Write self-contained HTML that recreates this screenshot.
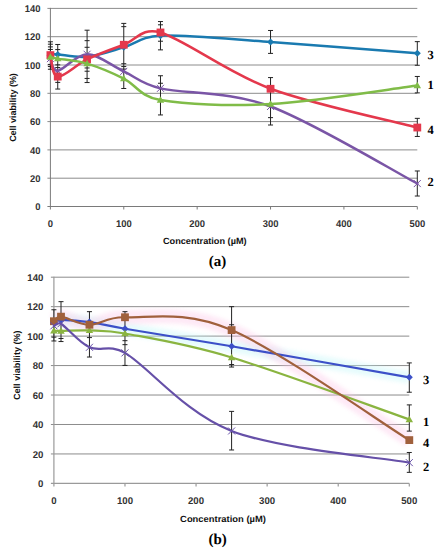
<!DOCTYPE html>
<html><head><meta charset="utf-8"><style>
html,body{margin:0;padding:0;background:#fff;}
svg{display:block;}
text{text-rendering:geometricPrecision;}
.tl{font-family:"Liberation Sans",sans-serif;font-size:9.8px;font-weight:bold;fill:#333;}
.at{font-family:"Liberation Sans",sans-serif;font-size:9px;font-weight:bold;fill:#111;}
.sl{font-family:"Liberation Serif",serif;font-size:12.5px;font-weight:bold;fill:#000;}
.pl{font-family:"Liberation Serif",serif;font-size:15px;font-weight:bold;fill:#000;}
</style></head><body>
<svg width="436" height="550" viewBox="0 0 436 550">
<defs><filter id="blur" x="-20%" y="-50%" width="140%" height="200%"><feGaussianBlur stdDeviation="2"/></filter></defs>
<rect width="436" height="550" fill="#fff"/>
<line x1="47.40" y1="178.20" x2="417.30" y2="178.20" stroke="#8c8c8c" stroke-width="1"/>
<line x1="47.40" y1="149.90" x2="417.30" y2="149.90" stroke="#8c8c8c" stroke-width="1"/>
<line x1="47.40" y1="121.60" x2="417.30" y2="121.60" stroke="#8c8c8c" stroke-width="1"/>
<line x1="47.40" y1="93.30" x2="417.30" y2="93.30" stroke="#8c8c8c" stroke-width="1"/>
<line x1="47.40" y1="65.00" x2="417.30" y2="65.00" stroke="#8c8c8c" stroke-width="1"/>
<line x1="47.40" y1="36.70" x2="417.30" y2="36.70" stroke="#8c8c8c" stroke-width="1"/>
<line x1="47.40" y1="8.40" x2="417.30" y2="8.40" stroke="#8c8c8c" stroke-width="1"/>
<line x1="50.40" y1="7.90" x2="50.40" y2="209.50" stroke="#7a7a7a" stroke-width="1"/>
<line x1="47.40" y1="206.50" x2="417.30" y2="206.50" stroke="#7a7a7a" stroke-width="1"/>
<line x1="123.78" y1="206.50" x2="123.78" y2="209.50" stroke="#7a7a7a" stroke-width="1"/>
<line x1="197.16" y1="206.50" x2="197.16" y2="209.50" stroke="#7a7a7a" stroke-width="1"/>
<line x1="270.54" y1="206.50" x2="270.54" y2="209.50" stroke="#7a7a7a" stroke-width="1"/>
<line x1="343.92" y1="206.50" x2="343.92" y2="209.50" stroke="#7a7a7a" stroke-width="1"/>
<line x1="417.30" y1="206.50" x2="417.30" y2="209.50" stroke="#7a7a7a" stroke-width="1"/>
<text x="35.35" y="210.10" class="tl" textLength="5.25" lengthAdjust="spacingAndGlyphs">0</text>
<text x="30.10" y="181.80" class="tl" textLength="10.50" lengthAdjust="spacingAndGlyphs">20</text>
<text x="30.10" y="153.50" class="tl" textLength="10.50" lengthAdjust="spacingAndGlyphs">40</text>
<text x="30.10" y="125.20" class="tl" textLength="10.50" lengthAdjust="spacingAndGlyphs">60</text>
<text x="30.10" y="96.90" class="tl" textLength="10.50" lengthAdjust="spacingAndGlyphs">80</text>
<text x="24.85" y="68.60" class="tl" textLength="15.75" lengthAdjust="spacingAndGlyphs">100</text>
<text x="24.85" y="40.30" class="tl" textLength="15.75" lengthAdjust="spacingAndGlyphs">120</text>
<text x="24.85" y="12.00" class="tl" textLength="15.75" lengthAdjust="spacingAndGlyphs">140</text>
<text x="47.77" y="227.10" class="tl" textLength="5.25" lengthAdjust="spacingAndGlyphs">0</text>
<text x="115.91" y="227.10" class="tl" textLength="15.75" lengthAdjust="spacingAndGlyphs">100</text>
<text x="189.28" y="227.10" class="tl" textLength="15.75" lengthAdjust="spacingAndGlyphs">200</text>
<text x="262.67" y="227.10" class="tl" textLength="15.75" lengthAdjust="spacingAndGlyphs">300</text>
<text x="336.04" y="227.10" class="tl" textLength="15.75" lengthAdjust="spacingAndGlyphs">400</text>
<text x="409.43" y="227.10" class="tl" textLength="15.75" lengthAdjust="spacingAndGlyphs">500</text>
<line x1="50.40" y1="41.79" x2="50.40" y2="69.25" stroke="#222" stroke-width="1"/>
<line x1="47.90" y1="41.79" x2="52.90" y2="41.79" stroke="#222" stroke-width="1"/>
<line x1="47.90" y1="44.20" x2="52.90" y2="44.20" stroke="#222" stroke-width="1"/>
<line x1="47.90" y1="46.89" x2="52.90" y2="46.89" stroke="#222" stroke-width="1"/>
<line x1="47.90" y1="49.44" x2="52.90" y2="49.44" stroke="#222" stroke-width="1"/>
<line x1="47.90" y1="64.43" x2="52.90" y2="64.43" stroke="#222" stroke-width="1"/>
<line x1="47.90" y1="66.56" x2="52.90" y2="66.56" stroke="#222" stroke-width="1"/>
<line x1="47.90" y1="69.25" x2="52.90" y2="69.25" stroke="#222" stroke-width="1"/>
<line x1="57.74" y1="44.48" x2="57.74" y2="89.06" stroke="#222" stroke-width="1"/>
<line x1="55.24" y1="44.48" x2="60.24" y2="44.48" stroke="#222" stroke-width="1"/>
<line x1="55.24" y1="49.58" x2="60.24" y2="49.58" stroke="#222" stroke-width="1"/>
<line x1="55.24" y1="64.86" x2="60.24" y2="64.86" stroke="#222" stroke-width="1"/>
<line x1="55.24" y1="67.55" x2="60.24" y2="67.55" stroke="#222" stroke-width="1"/>
<line x1="55.24" y1="82.40" x2="60.24" y2="82.40" stroke="#222" stroke-width="1"/>
<line x1="55.24" y1="89.06" x2="60.24" y2="89.06" stroke="#222" stroke-width="1"/>
<line x1="87.09" y1="30.19" x2="87.09" y2="82.55" stroke="#222" stroke-width="1"/>
<line x1="84.59" y1="30.19" x2="89.59" y2="30.19" stroke="#222" stroke-width="1"/>
<line x1="84.59" y1="40.66" x2="89.59" y2="40.66" stroke="#222" stroke-width="1"/>
<line x1="84.59" y1="47.31" x2="89.59" y2="47.31" stroke="#222" stroke-width="1"/>
<line x1="84.59" y1="67.97" x2="89.59" y2="67.97" stroke="#222" stroke-width="1"/>
<line x1="84.59" y1="71.23" x2="89.59" y2="71.23" stroke="#222" stroke-width="1"/>
<line x1="84.59" y1="78.44" x2="89.59" y2="78.44" stroke="#222" stroke-width="1"/>
<line x1="84.59" y1="82.55" x2="89.59" y2="82.55" stroke="#222" stroke-width="1"/>
<line x1="123.78" y1="23.40" x2="123.78" y2="88.49" stroke="#222" stroke-width="1"/>
<line x1="121.28" y1="23.40" x2="126.28" y2="23.40" stroke="#222" stroke-width="1"/>
<line x1="121.28" y1="26.65" x2="126.28" y2="26.65" stroke="#222" stroke-width="1"/>
<line x1="121.28" y1="63.73" x2="126.28" y2="63.73" stroke="#222" stroke-width="1"/>
<line x1="121.28" y1="66.56" x2="126.28" y2="66.56" stroke="#222" stroke-width="1"/>
<line x1="121.28" y1="69.10" x2="126.28" y2="69.10" stroke="#222" stroke-width="1"/>
<line x1="121.28" y1="88.49" x2="126.28" y2="88.49" stroke="#222" stroke-width="1"/>
<line x1="160.47" y1="21.56" x2="160.47" y2="49.86" stroke="#222" stroke-width="1"/>
<line x1="157.97" y1="21.56" x2="162.97" y2="21.56" stroke="#222" stroke-width="1"/>
<line x1="157.97" y1="24.81" x2="162.97" y2="24.81" stroke="#222" stroke-width="1"/>
<line x1="157.97" y1="41.23" x2="162.97" y2="41.23" stroke="#222" stroke-width="1"/>
<line x1="157.97" y1="49.86" x2="162.97" y2="49.86" stroke="#222" stroke-width="1"/>
<line x1="160.47" y1="75.75" x2="160.47" y2="114.95" stroke="#222" stroke-width="1"/>
<line x1="157.97" y1="75.75" x2="162.97" y2="75.75" stroke="#222" stroke-width="1"/>
<line x1="157.97" y1="83.25" x2="162.97" y2="83.25" stroke="#222" stroke-width="1"/>
<line x1="157.97" y1="114.95" x2="162.97" y2="114.95" stroke="#222" stroke-width="1"/>
<line x1="270.54" y1="30.47" x2="270.54" y2="53.40" stroke="#222" stroke-width="1"/>
<line x1="268.04" y1="30.47" x2="273.04" y2="30.47" stroke="#222" stroke-width="1"/>
<line x1="268.04" y1="53.40" x2="273.04" y2="53.40" stroke="#222" stroke-width="1"/>
<line x1="270.54" y1="77.59" x2="270.54" y2="125.00" stroke="#222" stroke-width="1"/>
<line x1="268.04" y1="77.59" x2="273.04" y2="77.59" stroke="#222" stroke-width="1"/>
<line x1="268.04" y1="117.64" x2="273.04" y2="117.64" stroke="#222" stroke-width="1"/>
<line x1="268.04" y1="125.00" x2="273.04" y2="125.00" stroke="#222" stroke-width="1"/>
<line x1="417.30" y1="41.65" x2="417.30" y2="65.28" stroke="#222" stroke-width="1"/>
<line x1="414.80" y1="41.65" x2="419.80" y2="41.65" stroke="#222" stroke-width="1"/>
<line x1="414.80" y1="65.28" x2="419.80" y2="65.28" stroke="#222" stroke-width="1"/>
<line x1="417.30" y1="76.46" x2="417.30" y2="92.88" stroke="#222" stroke-width="1"/>
<line x1="414.80" y1="76.46" x2="419.80" y2="76.46" stroke="#222" stroke-width="1"/>
<line x1="414.80" y1="92.88" x2="419.80" y2="92.88" stroke="#222" stroke-width="1"/>
<line x1="417.30" y1="118.35" x2="417.30" y2="136.46" stroke="#222" stroke-width="1"/>
<line x1="414.80" y1="118.35" x2="419.80" y2="118.35" stroke="#222" stroke-width="1"/>
<line x1="414.80" y1="136.46" x2="419.80" y2="136.46" stroke="#222" stroke-width="1"/>
<line x1="417.30" y1="170.98" x2="417.30" y2="196.03" stroke="#222" stroke-width="1"/>
<line x1="414.80" y1="170.98" x2="419.80" y2="170.98" stroke="#222" stroke-width="1"/>
<line x1="414.80" y1="196.03" x2="419.80" y2="196.03" stroke="#222" stroke-width="1"/>
<path d="M50.40,54.39 C51.62,54.39 54.08,54.15 57.74,54.39 C63.85,54.79 76.08,57.97 87.09,56.79 C98.10,55.61 111.55,50.83 123.78,47.31 C136.01,43.80 141.24,36.41 160.47,35.71 C184.93,34.81 227.74,39.01 270.54,41.94 C313.35,44.86 392.84,51.37 417.30,53.26" stroke="#1a7ab0" stroke-width="2.5" fill="none" stroke-linejoin="round" stroke-linecap="round"/>
<path d="M50.40,50.89 L53.90,54.39 L50.40,57.89 L46.90,54.39Z" fill="#1a7ab0"/>
<path d="M57.74,50.89 L61.24,54.39 L57.74,57.89 L54.24,54.39Z" fill="#1a7ab0"/>
<path d="M87.09,53.29 L90.59,56.79 L87.09,60.29 L83.59,56.79Z" fill="#1a7ab0"/>
<path d="M123.78,43.81 L127.28,47.31 L123.78,50.81 L120.28,47.31Z" fill="#1a7ab0"/>
<path d="M160.47,32.21 L163.97,35.71 L160.47,39.21 L156.97,35.71Z" fill="#1a7ab0"/>
<path d="M270.54,38.44 L274.04,41.94 L270.54,45.44 L267.04,41.94Z" fill="#1a7ab0"/>
<path d="M417.30,49.76 L420.80,53.26 L417.30,56.76 L413.80,53.26Z" fill="#1a7ab0"/>
<path d="M50.40,58.63 C51.62,60.68 51.62,71.67 57.74,70.94 C63.85,70.21 76.08,54.18 87.09,54.25 C98.10,54.32 111.55,65.68 123.78,71.37 C136.01,77.05 140.81,83.65 160.47,88.35 C184.93,94.20 227.74,90.59 270.54,106.46 C313.35,122.33 392.84,170.72 417.30,183.58" stroke="#7a55a6" stroke-width="2.5" fill="none" stroke-linejoin="round" stroke-linecap="round"/>
<path d="M46.90,55.13 L53.90,62.13 M53.90,55.13 L46.90,62.13" stroke="#7a55a6" stroke-width="1" fill="none"/>
<path d="M54.24,67.44 L61.24,74.44 M61.24,67.44 L54.24,74.44" stroke="#7a55a6" stroke-width="1" fill="none"/>
<path d="M83.59,50.75 L90.59,57.75 M90.59,50.75 L83.59,57.75" stroke="#7a55a6" stroke-width="1" fill="none"/>
<path d="M120.28,67.87 L127.28,74.87 M127.28,67.87 L120.28,74.87" stroke="#7a55a6" stroke-width="1" fill="none"/>
<path d="M156.97,84.85 L163.97,91.85 M163.97,84.85 L156.97,91.85" stroke="#7a55a6" stroke-width="1" fill="none"/>
<path d="M267.04,102.96 L274.04,109.96 M274.04,102.96 L267.04,109.96" stroke="#7a55a6" stroke-width="1" fill="none"/>
<path d="M413.80,180.08 L420.80,187.08 M420.80,180.08 L413.80,187.08" stroke="#7a55a6" stroke-width="1" fill="none"/>
<path d="M50.40,55.09 C51.62,58.68 51.62,75.90 57.74,76.60 C63.85,77.31 76.08,64.65 87.09,59.34 C98.10,54.03 111.55,49.25 123.78,44.77 C136.01,40.28 141.94,26.90 160.47,32.46 C184.93,39.79 227.74,72.92 270.54,88.77 C313.35,104.62 392.84,121.08 417.30,127.54" stroke="#e4384c" stroke-width="2.5" fill="none" stroke-linejoin="round" stroke-linecap="round"/>
<rect x="46.50" y="51.20" width="7.80" height="7.80" fill="#e4384c"/>
<rect x="53.84" y="72.70" width="7.80" height="7.80" fill="#e4384c"/>
<rect x="83.19" y="55.44" width="7.80" height="7.80" fill="#e4384c"/>
<rect x="119.88" y="40.87" width="7.80" height="7.80" fill="#e4384c"/>
<rect x="156.57" y="28.56" width="7.80" height="7.80" fill="#e4384c"/>
<rect x="266.64" y="84.87" width="7.80" height="7.80" fill="#e4384c"/>
<rect x="413.40" y="123.64" width="7.80" height="7.80" fill="#e4384c"/>
<path d="M50.40,57.08 C51.62,57.34 54.05,57.98 57.74,58.63 C63.85,59.72 76.08,60.26 87.09,63.59 C98.10,66.91 111.55,72.50 123.78,78.58 C136.01,84.67 139.52,96.46 160.47,100.09 C184.93,104.34 227.74,106.48 270.54,104.05 C313.35,101.62 392.84,88.61 417.30,85.52" stroke="#80bc48" stroke-width="2.5" fill="none" stroke-linejoin="round" stroke-linecap="round"/>
<path d="M50.40,53.34 L54.14,59.80 L46.66,59.80Z" fill="#80bc48"/>
<path d="M57.74,54.89 L61.48,61.35 L54.00,61.35Z" fill="#80bc48"/>
<path d="M87.09,59.85 L90.83,66.31 L83.35,66.31Z" fill="#80bc48"/>
<path d="M123.78,74.84 L127.52,81.30 L120.04,81.30Z" fill="#80bc48"/>
<path d="M160.47,96.35 L164.21,102.81 L156.73,102.81Z" fill="#80bc48"/>
<path d="M270.54,100.31 L274.28,106.77 L266.80,106.77Z" fill="#80bc48"/>
<path d="M417.30,81.78 L421.04,88.24 L413.56,88.24Z" fill="#80bc48"/>
<text x="427.50" y="59.40" class="sl">3</text>
<text x="427.50" y="89.40" class="sl">1</text>
<text x="427.50" y="133.90" class="sl">4</text>
<text x="427.50" y="186.40" class="sl">2</text>
<text transform="translate(16.10,107.50) rotate(-90)" text-anchor="middle" class="at" textLength="68.7" lengthAdjust="spacingAndGlyphs">Cell viability (%)</text>
<text x="204.80" y="243.80" text-anchor="middle" class="at" textLength="83.7" lengthAdjust="spacingAndGlyphs">Concentration (µM)</text>
<text x="217.60" y="265.60" text-anchor="middle" class="pl">(a)</text>
<line x1="50.90" y1="453.94" x2="409.30" y2="453.94" stroke="#8c8c8c" stroke-width="1"/>
<line x1="50.90" y1="424.49" x2="409.30" y2="424.49" stroke="#8c8c8c" stroke-width="1"/>
<line x1="50.90" y1="395.03" x2="409.30" y2="395.03" stroke="#8c8c8c" stroke-width="1"/>
<line x1="50.90" y1="365.57" x2="409.30" y2="365.57" stroke="#8c8c8c" stroke-width="1"/>
<line x1="50.90" y1="336.11" x2="409.30" y2="336.11" stroke="#8c8c8c" stroke-width="1"/>
<line x1="50.90" y1="306.66" x2="409.30" y2="306.66" stroke="#8c8c8c" stroke-width="1"/>
<line x1="50.90" y1="277.20" x2="409.30" y2="277.20" stroke="#8c8c8c" stroke-width="1"/>
<line x1="53.90" y1="276.70" x2="53.90" y2="486.40" stroke="#9a9a9a" stroke-width="1.2"/>
<line x1="50.90" y1="483.40" x2="409.30" y2="483.40" stroke="#9a9a9a" stroke-width="1.2"/>
<line x1="124.98" y1="483.40" x2="124.98" y2="486.40" stroke="#9a9a9a" stroke-width="1.2"/>
<line x1="196.06" y1="483.40" x2="196.06" y2="486.40" stroke="#9a9a9a" stroke-width="1.2"/>
<line x1="267.14" y1="483.40" x2="267.14" y2="486.40" stroke="#9a9a9a" stroke-width="1.2"/>
<line x1="338.22" y1="483.40" x2="338.22" y2="486.40" stroke="#9a9a9a" stroke-width="1.2"/>
<line x1="409.30" y1="483.40" x2="409.30" y2="486.40" stroke="#9a9a9a" stroke-width="1.2"/>
<text x="38.05" y="487.00" class="tl" textLength="5.35" lengthAdjust="spacingAndGlyphs">0</text>
<text x="32.70" y="457.54" class="tl" textLength="10.70" lengthAdjust="spacingAndGlyphs">20</text>
<text x="32.70" y="428.09" class="tl" textLength="10.70" lengthAdjust="spacingAndGlyphs">40</text>
<text x="32.70" y="398.63" class="tl" textLength="10.70" lengthAdjust="spacingAndGlyphs">60</text>
<text x="32.70" y="369.17" class="tl" textLength="10.70" lengthAdjust="spacingAndGlyphs">80</text>
<text x="27.35" y="339.71" class="tl" textLength="16.05" lengthAdjust="spacingAndGlyphs">100</text>
<text x="27.35" y="310.26" class="tl" textLength="16.05" lengthAdjust="spacingAndGlyphs">120</text>
<text x="27.35" y="280.80" class="tl" textLength="16.05" lengthAdjust="spacingAndGlyphs">140</text>
<text x="51.23" y="503.80" class="tl" textLength="5.35" lengthAdjust="spacingAndGlyphs">0</text>
<text x="116.95" y="503.80" class="tl" textLength="16.05" lengthAdjust="spacingAndGlyphs">100</text>
<text x="188.03" y="503.80" class="tl" textLength="16.05" lengthAdjust="spacingAndGlyphs">200</text>
<text x="259.12" y="503.80" class="tl" textLength="16.05" lengthAdjust="spacingAndGlyphs">300</text>
<text x="330.19" y="503.80" class="tl" textLength="16.05" lengthAdjust="spacingAndGlyphs">400</text>
<text x="401.28" y="503.80" class="tl" textLength="16.05" lengthAdjust="spacingAndGlyphs">500</text>
<path d="M53.90,321.39 C55.08,321.14 57.38,319.84 61.01,319.91 C66.93,320.04 78.78,320.65 89.44,322.12 C100.10,323.60 107.16,325.72 124.98,328.75 C148.67,332.78 184.21,338.18 231.60,346.28 C278.99,354.38 379.68,372.17 409.30,377.35" stroke="#c0f6f8" stroke-width="12" fill="none" filter="url(#blur)" opacity="0.4"/>
<path d="M53.90,321.24 C55.08,320.48 56.80,316.25 61.01,316.67 C66.93,317.26 78.78,324.68 89.44,324.77 C100.10,324.87 106.83,316.58 124.98,317.26 C148.67,318.15 184.21,309.60 231.60,330.08 C278.99,350.55 379.68,421.76 409.30,440.10" stroke="#fcc8e8" stroke-width="14" fill="none" filter="url(#blur)" opacity="0.4"/>
<line x1="53.90" y1="309.75" x2="53.90" y2="340.97" stroke="#222" stroke-width="1"/>
<line x1="51.40" y1="309.75" x2="56.40" y2="309.75" stroke="#222" stroke-width="1"/>
<line x1="51.40" y1="337.15" x2="56.40" y2="337.15" stroke="#222" stroke-width="1"/>
<line x1="51.40" y1="340.97" x2="56.40" y2="340.97" stroke="#222" stroke-width="1"/>
<line x1="61.01" y1="301.65" x2="61.01" y2="341.56" stroke="#222" stroke-width="1"/>
<line x1="58.51" y1="301.65" x2="63.51" y2="301.65" stroke="#222" stroke-width="1"/>
<line x1="58.51" y1="338.47" x2="63.51" y2="338.47" stroke="#222" stroke-width="1"/>
<line x1="58.51" y1="341.56" x2="63.51" y2="341.56" stroke="#222" stroke-width="1"/>
<line x1="89.44" y1="311.66" x2="89.44" y2="357.03" stroke="#222" stroke-width="1"/>
<line x1="86.94" y1="311.66" x2="91.94" y2="311.66" stroke="#222" stroke-width="1"/>
<line x1="86.94" y1="337.59" x2="91.94" y2="337.59" stroke="#222" stroke-width="1"/>
<line x1="86.94" y1="357.03" x2="91.94" y2="357.03" stroke="#222" stroke-width="1"/>
<line x1="124.98" y1="311.66" x2="124.98" y2="365.42" stroke="#222" stroke-width="1"/>
<line x1="122.48" y1="311.66" x2="127.48" y2="311.66" stroke="#222" stroke-width="1"/>
<line x1="122.48" y1="340.68" x2="127.48" y2="340.68" stroke="#222" stroke-width="1"/>
<line x1="122.48" y1="344.66" x2="127.48" y2="344.66" stroke="#222" stroke-width="1"/>
<line x1="122.48" y1="365.42" x2="127.48" y2="365.42" stroke="#222" stroke-width="1"/>
<line x1="231.60" y1="306.66" x2="231.60" y2="367.04" stroke="#222" stroke-width="1"/>
<line x1="229.10" y1="306.66" x2="234.10" y2="306.66" stroke="#222" stroke-width="1"/>
<line x1="229.10" y1="324.77" x2="234.10" y2="324.77" stroke="#222" stroke-width="1"/>
<line x1="229.10" y1="364.54" x2="234.10" y2="364.54" stroke="#222" stroke-width="1"/>
<line x1="229.10" y1="367.04" x2="234.10" y2="367.04" stroke="#222" stroke-width="1"/>
<line x1="231.60" y1="411.38" x2="231.60" y2="449.97" stroke="#222" stroke-width="1"/>
<line x1="229.10" y1="411.38" x2="234.10" y2="411.38" stroke="#222" stroke-width="1"/>
<line x1="229.10" y1="449.97" x2="234.10" y2="449.97" stroke="#222" stroke-width="1"/>
<line x1="409.30" y1="362.92" x2="409.30" y2="392.23" stroke="#222" stroke-width="1"/>
<line x1="406.80" y1="362.92" x2="411.80" y2="362.92" stroke="#222" stroke-width="1"/>
<line x1="406.80" y1="392.23" x2="411.80" y2="392.23" stroke="#222" stroke-width="1"/>
<line x1="409.30" y1="404.90" x2="409.30" y2="431.11" stroke="#222" stroke-width="1"/>
<line x1="406.80" y1="404.90" x2="411.80" y2="404.90" stroke="#222" stroke-width="1"/>
<line x1="406.80" y1="431.11" x2="411.80" y2="431.11" stroke="#222" stroke-width="1"/>
<line x1="409.30" y1="452.47" x2="409.30" y2="472.35" stroke="#222" stroke-width="1"/>
<line x1="406.80" y1="452.47" x2="411.80" y2="452.47" stroke="#222" stroke-width="1"/>
<line x1="406.80" y1="472.35" x2="411.80" y2="472.35" stroke="#222" stroke-width="1"/>
<path d="M53.90,321.39 C55.08,321.14 57.38,319.84 61.01,319.91 C66.93,320.04 78.78,320.65 89.44,322.12 C100.10,323.60 107.16,325.72 124.98,328.75 C148.67,332.78 184.21,338.18 231.60,346.28 C278.99,354.38 379.68,372.17 409.30,377.35" stroke="#3c50c8" stroke-width="2.2" fill="none" stroke-linejoin="round" stroke-linecap="round"/>
<path d="M53.90,317.89 L57.40,321.39 L53.90,324.89 L50.40,321.39Z" fill="#3c50c8"/>
<path d="M61.01,316.41 L64.51,319.91 L61.01,323.41 L57.51,319.91Z" fill="#3c50c8"/>
<path d="M89.44,318.62 L92.94,322.12 L89.44,325.62 L85.94,322.12Z" fill="#3c50c8"/>
<path d="M124.98,325.25 L128.48,328.75 L124.98,332.25 L121.48,328.75Z" fill="#3c50c8"/>
<path d="M231.60,342.78 L235.10,346.28 L231.60,349.78 L228.10,346.28Z" fill="#3c50c8"/>
<path d="M409.30,373.85 L412.80,377.35 L409.30,380.85 L405.80,377.35Z" fill="#3c50c8"/>
<path d="M53.90,330.66 C55.08,330.71 57.45,330.99 61.01,330.96 C66.93,330.91 78.78,329.95 89.44,330.37 C100.10,330.79 107.46,330.12 124.98,333.46 C148.67,337.98 184.21,343.13 231.60,357.47 C278.99,371.81 379.68,409.14 409.30,419.48" stroke="#8ab440" stroke-width="2.2" fill="none" stroke-linejoin="round" stroke-linecap="round"/>
<path d="M53.90,326.92 L57.64,333.38 L50.16,333.38Z" fill="#8ab440"/>
<path d="M61.01,327.22 L64.75,333.68 L57.27,333.68Z" fill="#8ab440"/>
<path d="M89.44,326.63 L93.18,333.09 L85.70,333.09Z" fill="#8ab440"/>
<path d="M124.98,329.72 L128.72,336.18 L121.24,336.18Z" fill="#8ab440"/>
<path d="M231.60,353.73 L235.34,360.19 L227.86,360.19Z" fill="#8ab440"/>
<path d="M409.30,415.74 L413.04,422.20 L405.56,422.20Z" fill="#8ab440"/>
<path d="M53.90,321.24 C55.08,320.48 56.80,316.25 61.01,316.67 C66.93,317.26 78.78,324.68 89.44,324.77 C100.10,324.87 106.83,316.58 124.98,317.26 C148.67,318.15 184.21,309.60 231.60,330.08 C278.99,350.55 379.68,421.76 409.30,440.10" stroke="#a0603c" stroke-width="2.2" fill="none" stroke-linejoin="round" stroke-linecap="round"/>
<rect x="50.00" y="317.34" width="7.80" height="7.80" fill="#a0603c"/>
<rect x="57.11" y="312.77" width="7.80" height="7.80" fill="#a0603c"/>
<rect x="85.54" y="320.87" width="7.80" height="7.80" fill="#a0603c"/>
<rect x="121.08" y="313.36" width="7.80" height="7.80" fill="#a0603c"/>
<rect x="227.70" y="326.18" width="7.80" height="7.80" fill="#a0603c"/>
<rect x="405.40" y="436.20" width="7.80" height="7.80" fill="#a0603c"/>
<path d="M53.90,325.80 C55.08,325.46 57.84,321.83 61.01,323.74 C66.93,327.33 78.78,342.45 89.44,347.31 C100.10,352.17 109.48,343.78 124.98,352.90 C148.67,366.85 184.21,412.68 231.60,430.97 C278.99,449.25 379.68,457.35 409.30,462.63" stroke="#6650a8" stroke-width="2.2" fill="none" stroke-linejoin="round" stroke-linecap="round"/>
<path d="M50.40,322.30 L57.40,329.30 M57.40,322.30 L50.40,329.30" stroke="#6650a8" stroke-width="1" fill="none"/>
<path d="M57.51,320.24 L64.51,327.24 M64.51,320.24 L57.51,327.24" stroke="#6650a8" stroke-width="1" fill="none"/>
<path d="M85.94,343.81 L92.94,350.81 M92.94,343.81 L85.94,350.81" stroke="#6650a8" stroke-width="1" fill="none"/>
<path d="M121.48,349.40 L128.48,356.40 M128.48,349.40 L121.48,356.40" stroke="#6650a8" stroke-width="1" fill="none"/>
<path d="M228.10,427.47 L235.10,434.47 M235.10,427.47 L228.10,434.47" stroke="#6650a8" stroke-width="1" fill="none"/>
<path d="M405.80,459.13 L412.80,466.13 M412.80,459.13 L405.80,466.13" stroke="#6650a8" stroke-width="1" fill="none"/>
<text x="423.10" y="383.70" class="sl">3</text>
<text x="423.10" y="425.60" class="sl">1</text>
<text x="423.10" y="447.20" class="sl">4</text>
<text x="423.10" y="471.00" class="sl">2</text>
<text transform="translate(19.90,365.20) rotate(-90)" text-anchor="middle" class="at" textLength="69.6" lengthAdjust="spacingAndGlyphs">Cell viability (%)</text>
<text x="223.00" y="522.20" text-anchor="middle" class="at" textLength="85.8" lengthAdjust="spacingAndGlyphs">Concentration (µM)</text>
<text x="217.70" y="544.30" text-anchor="middle" class="pl">(b)</text>
</svg>
</body></html>
